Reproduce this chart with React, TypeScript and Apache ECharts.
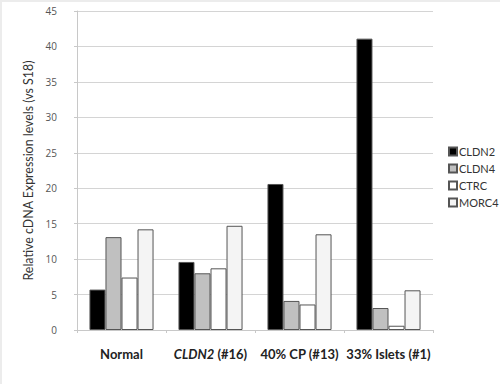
import React, { useEffect, useRef } from "react";
import * as echarts from "echarts";

const categories = ["Normal", "CLDN2 (#16)", "40% CP (#13)", "33% Islets (#1)"];
const seriesNames = ["CLDN2", "CLDN4", "CTRC", "MORC4"];
const cldn2 = [5.7, 9.6, 20.6, 41.1];
const cldn4 = [13.1, 8.0, 4.1, 3.1];
const ctrc = [7.4, 8.7, 3.6, 0.6];
const morc4 = [14.2, 14.7, 13.5, 5.6];
const seriesValues = [cldn2, cldn4, ctrc, morc4];
const seriesColors = ["#000000", "#c0c0c0", "#ffffff", "#f4f4f4"];

export default function App() {
  const ref = useRef<HTMLDivElement>(null);
  useEffect(() => {
    if (!ref.current) return;
    const chart = echarts.init(ref.current, null, { renderer: "svg" });
    chart.setOption({
      animation: false,
      backgroundColor: "#ffffff",
      graphic: [
        { type: "rect", left: 0, top: 0, shape: { width: 500, height: 2 }, style: { fill: "#ececec" } },
        { type: "rect", left: 0, top: 0, shape: { width: 2, height: 384 }, style: { fill: "#ececec" } },
      ],
      legend: {
        orient: "vertical",
        left: 443,
        top: 141,
        itemWidth: 8,
        itemHeight: 8,
        itemGap: 6,
        icon: "rect",
        textStyle: { fontSize: 11, color: "#333", fontFamily: "Lato", padding: [0, 0, 0, -3] },
        data: seriesNames,
      },
      grid: { left: 77, right: 67, top: 11, bottom: 54 },
      xAxis: {
        type: "category",
        data: categories,
        axisLine: { lineStyle: { color: "#c8c8c8", width: 1 } },
        axisTick: { show: true, length: 3, lineStyle: { color: "#c8c8c8" } },
        axisLabel: {
          margin: 17,
          interval: 0,
          fontSize: 13,
          fontWeight: "bold",
          color: "#222",
          fontFamily: "Lato",
          formatter: (v: string) => {
            if (v.startsWith("CLDN2 ")) {
              return "{i|CLDN2} {b|" + v.slice(6) + "}";
            }
            return "{b|" + v + "}";
          },
          rich: {
            i: { fontSize: 13, fontWeight: "bold", fontStyle: "italic", color: "#222", fontFamily: "Lato" },
            b: { fontSize: 13, fontWeight: "bold", color: "#222", fontFamily: "Lato" },
          },
        },
      },
      yAxis: {
        type: "value",
        min: 0,
        max: 45,
        interval: 5,
        name: "Relative cDNA Expression levels (vs S18)",
        nameLocation: "middle",
        nameGap: 43,
        nameTextStyle: { fontSize: 12.4, color: "#333", fontFamily: "Lato" },
        axisLine: { show: true, lineStyle: { color: "#c8c8c8", width: 1 } },
        axisTick: { show: true, length: 3, lineStyle: { color: "#c8c8c8" } },
        axisLabel: { margin: 20, fontSize: 10, color: "#555", fontFamily: "Open Sans" },
        splitLine: { lineStyle: { color: "#d4d4d4", width: 1 } },
      },
      series: seriesNames.map((name, i) => ({
        name,
        type: "bar",
        data: seriesValues[i],
        barGap: "0%",
        barCategoryGap: "28%",
        itemStyle: { color: seriesColors[i], borderColor: "#555555", borderWidth: 1 },
      })),
    });
    return () => chart.dispose();
  }, []);
  return (
    <div
      ref={ref}
      style={{ position: "fixed", left: 0, top: 0, width: 500, height: 384 }}
    />
  );
}
